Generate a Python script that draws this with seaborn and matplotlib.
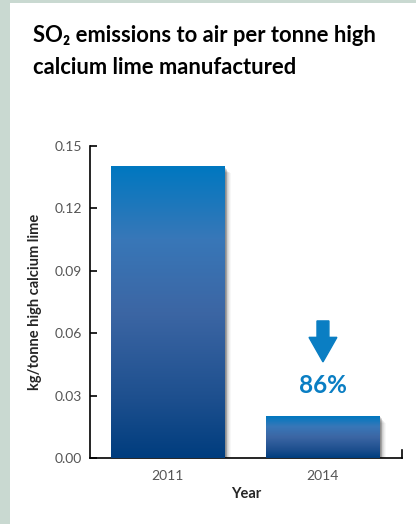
import numpy as np
import pandas as pd
import matplotlib
matplotlib.use("Agg")
import matplotlib.pyplot as plt
import matplotlib.patches as mpatches
from matplotlib.colors import LinearSegmentedColormap
import seaborn as sns

# data
years = ["2011", "2014"]
emissions = [0.14, 0.02]
reduction_label = "86%"
y_ticks = [0.00, 0.03, 0.06, 0.09, 0.12, 0.15]

df = pd.DataFrame({"Year": years, "kg": emissions})

sns.set_style("white")
plt.rcParams["font.family"] = ["Lato", "DejaVu Sans"]

fig = plt.figure(figsize=(4.16, 5.24), dpi=100)
fig.patch.set_facecolor("#c9d9d1")

# white card behind everything
card = fig.add_axes([10 / 416, 0, 1, 1 - 3 / 524], zorder=-10)
card.set_facecolor("white")
card.set_xticks([])
card.set_yticks([])
for s in card.spines.values():
    s.set_visible(False)

ax = fig.add_axes([90 / 416, 1 - 458 / 524, 312 / 416, 312 / 524])
ax.set_facecolor("none")

sns.barplot(data=df, x="Year", y="kg", ax=ax, width=0.735, color="#1f5fa0", zorder=3)

grad = LinearSegmentedColormap.from_list(
    "bar", [(0, "#003d7e"), (0.2, "#1d4f8e"), (0.5, "#3c66a4"), (0.75, "#3877b8"), (1, "#0078c0")])
g = np.linspace(0, 1, 256).reshape(-1, 1)

for p in list(ax.patches):
    x0, y0 = p.get_x(), p.get_y()
    w, h = p.get_width(), p.get_height()
    # soft drop shadow
    for k, a in zip(range(1, 8), [0.12, 0.11, 0.10, 0.08, 0.06, 0.04, 0.03]):
        dx = 0.004 * k * 1.3
        dy = 0.00035 * k * 1.3
        ax.add_patch(mpatches.Rectangle((x0 + dx, y0 - dy), w, h, facecolor="black",
                                        alpha=a, edgecolor="none", zorder=2))
    p.set_facecolor("none")
    p.set_edgecolor("none")
    ax.imshow(g, cmap=grad, origin="lower", aspect="auto",
              extent=(x0, x0 + w, y0, y0 + h), zorder=4)

ax.set_xlim(-0.503, 1.51)
ax.set_ylim(0, 0.15)
ax.set_yticks(y_ticks)
ax.set_yticklabels([f"{v:.2f}" for v in y_ticks])

sns.despine(ax=ax, top=True, right=False)
ax.spines["right"].set_bounds(0, 0.0038)
for s in ["left", "bottom", "right"]:
    ax.spines[s].set_color("black")
    ax.spines[s].set_linewidth(1.2)
    ax.spines[s].set_zorder(1)

ax.tick_params(axis="y", direction="in", length=5, width=1.2, colors="black",
               labelcolor="#555555", labelsize=10, pad=6, left=True)
ax.tick_params(axis="x", length=0, labelcolor="#555555", labelsize=10, pad=9)

ax.set_ylabel("kg/tonne high calcium lime", fontsize=10.5, fontweight="bold", labelpad=9)
ax.set_xlabel("Year", fontsize=10.5, fontweight="bold", labelpad=3)

# reduction arrow and label above the 2014 bar
ax.arrow(1, 0.0659, 0, -0.0197, width=0.077, head_width=0.18, head_length=0.0118,
         length_includes_head=True, color="#0a7ec3", zorder=5)
ax.text(1, 0.0348, reduction_label, ha="center", va="center", fontsize=17.5,
        fontweight="bold", color="#0a7ec3")

fig.text(33 / 416, 1 - 42 / 524, "SO\u2082 emissions to air per tonne high",
         ha="left", va="baseline", fontsize=15.8, fontweight="bold", color="black")
fig.text(33 / 416, 1 - 74 / 524, "calcium lime manufactured",
         ha="left", va="baseline", fontsize=15.8, fontweight="bold", color="black")

fig.savefig("out.png", dpi=100)
